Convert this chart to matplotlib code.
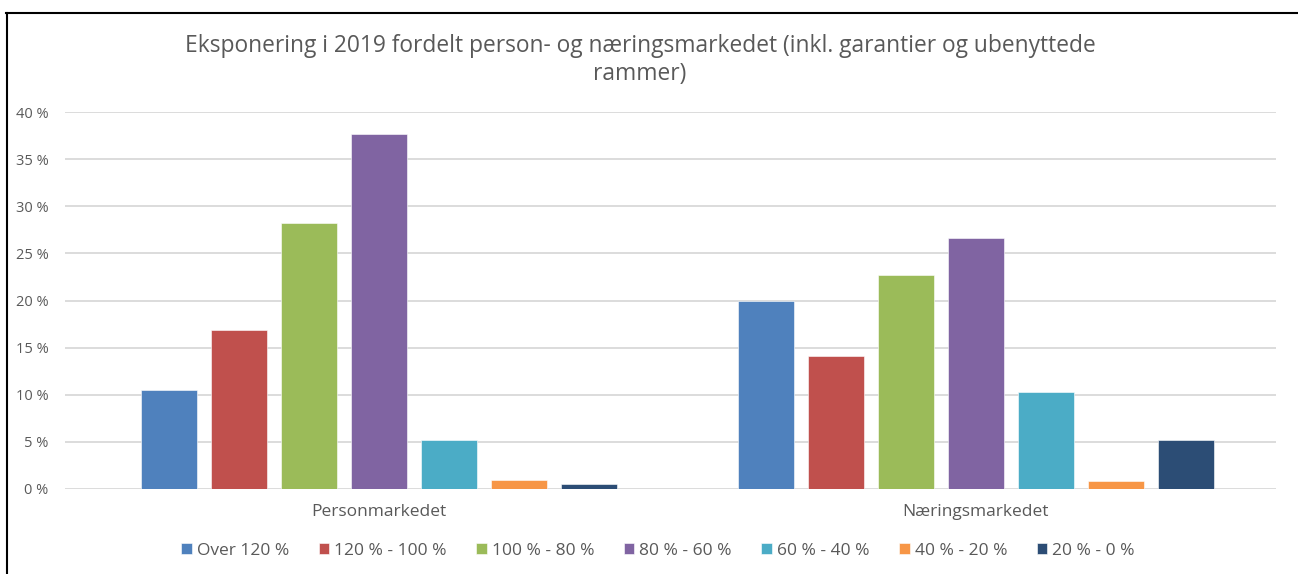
import numpy as np
import matplotlib.pyplot as plt
from matplotlib.lines import Line2D

categories = ['Personmarkedet', 'Næringsmarkedet']
series = ['Over 120 %', '120 % - 100 %', '100 % - 80 %', '80 % - 60 %',
          '60 % - 40 %', '40 % - 20 %', '20 % - 0 %']
values = [
    [10.5, 20.0],
    [16.9, 14.1],
    [28.2, 22.7],
    [37.7, 26.6],
    [5.2, 10.3],
    [1.0, 0.9],
    [0.5, 5.2],
]
colors = ['#4F81BD', '#C0504D', '#9BBB59', '#8064A2', '#4BACC6', '#F79646', '#2C4D75']
yticks = [0, 5, 10, 15, 20, 25, 30, 35, 40]

plt.rcParams['font.family'] = ['Open Sans', 'DejaVu Sans']
grey = '#595959'

W, H = 1298, 574
fig = plt.figure(figsize=(W / 100, H / 100), dpi=100)
ax = fig.add_axes([65 / W, 1 - 489 / H, (1276 - 65) / W, (489 - 112) / H])

x = np.arange(len(categories))
bw = 56 / 597
step = 70 / 597
for i, (name, vals) in enumerate(zip(series, values)):
    off = (i - 3) * step
    ax.bar(x + off, vals, bw, color=colors[i], label=name, zorder=3,
           edgecolor='white', linewidth=0.4)

ax.set_ylim(0, 40)
ax.set_xlim(-(379 - 65) / 597, 1 + (1276 - 976) / 597)
ax.set_yticks(yticks)
ax.set_yticklabels([f'{t} %' for t in yticks], color=grey, fontsize=10.5)
ax.set_xticks(x)
ax.set_xticklabels(categories, color=grey, fontsize=12.5)
ax.tick_params(axis='both', length=0)
ax.tick_params(axis='y', pad=12)
ax.tick_params(axis='x', pad=11)
ax.grid(axis='y', color='#D9D9D9', linewidth=1.3, zorder=0)
for s in ax.spines.values():
    s.set_visible(False)

fig.text(640 / W, 1 - 46 / H,
         'Eksponering i 2019 fordelt person- og næringsmarkedet (inkl. garantier og ubenyttede',
         ha='center', va='center', fontsize=16.4, color=grey)
fig.text(640 / W, 1 - 74 / H, 'rammer)', ha='center', va='center', fontsize=16.4, color=grey)

fig.legend(loc='center', bbox_to_anchor=(658 / W, 1 - 551 / H), ncol=7, frameon=False,
           fontsize=12.5, handlelength=0.6, handleheight=0.6, handletextpad=0.3,
           columnspacing=1.7, labelcolor=grey)

# outer frame (top and left edges only)
fig.add_artist(Line2D([6 / W, 1297 / W], [1 - 13 / H, 1 - 13 / H], color='black', lw=1.5))
fig.add_artist(Line2D([7 / W, 7 / W], [0, 1 - 13 / H], color='black', lw=1.5))

fig.savefig('out.png', dpi=100)
